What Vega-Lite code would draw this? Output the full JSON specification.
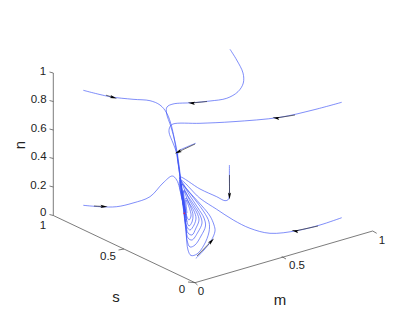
{"$schema":"https://vega.github.io/schema/vega-lite/v6.json","width":411,"height":317,"autosize":{"type":"fit","contains":"padding"},"padding":0,"background":"white","config":{"view":{"stroke":null}},
"datasets":{
"curves":[
{"c":"A","i":0,"x":83.3,"y":90.3},{"c":"A","i":1,"x":110,"y":96.7},{"c":"A","i":2,"x":133,"y":99.3},{"c":"A","i":3,"x":150,"y":100.7},{"c":"A","i":4,"x":160,"y":105},{"c":"A","i":5,"x":166.7,"y":113},{"c":"A","i":6,"x":171.7,"y":126.7},{"c":"A","i":7,"x":175,"y":143},{"c":"A","i":8,"x":178,"y":163},{"c":"A","i":9,"x":180,"y":177},{"c":"A","i":10,"x":184,"y":205},{"c":"A","i":11,"x":187,"y":222},
{"c":"B","i":0,"x":230,"y":49.3},{"c":"B","i":1,"x":236.7,"y":60},{"c":"B","i":2,"x":243,"y":73},{"c":"B","i":3,"x":243.3,"y":83},{"c":"B","i":4,"x":238,"y":91.7},{"c":"B","i":5,"x":226.7,"y":98.3},{"c":"B","i":6,"x":210,"y":101},{"c":"B","i":7,"x":193,"y":102.7},{"c":"B","i":8,"x":173,"y":104},{"c":"B","i":9,"x":167,"y":107},{"c":"B","i":10,"x":166.5,"y":113},{"c":"B","i":11,"x":171,"y":127},{"c":"B","i":12,"x":176,"y":146},{"c":"B","i":13,"x":179,"y":165},{"c":"B","i":14,"x":182,"y":190},{"c":"B","i":15,"x":186,"y":218},
{"c":"C","i":0,"x":341.7,"y":102.3},{"c":"C","i":1,"x":313,"y":110},{"c":"C","i":2,"x":280,"y":117.3},{"c":"C","i":3,"x":233,"y":121.7},{"c":"C","i":4,"x":200,"y":123.3},{"c":"C","i":5,"x":173,"y":124},{"c":"C","i":6,"x":170,"y":126.7},{"c":"C","i":7,"x":169,"y":132},{"c":"C","i":8,"x":173,"y":143},{"c":"C","i":9,"x":176.7,"y":153},{"c":"C","i":10,"x":178.5,"y":165},{"c":"C","i":11,"x":181,"y":185},{"c":"C","i":12,"x":185,"y":212},
{"c":"D","i":0,"x":195.7,"y":143.3},{"c":"D","i":1,"x":186.7,"y":147},{"c":"D","i":2,"x":179,"y":151},{"c":"D","i":3,"x":177.5,"y":156},{"c":"D","i":4,"x":179,"y":168},{"c":"D","i":5,"x":182,"y":190},{"c":"D","i":6,"x":186,"y":215},
{"c":"E","i":0,"x":83.3,"y":205.3},{"c":"E","i":1,"x":100,"y":206.7},{"c":"E","i":2,"x":116.7,"y":206.7},{"c":"E","i":3,"x":133,"y":203},{"c":"E","i":4,"x":150,"y":196.7},{"c":"E","i":5,"x":163,"y":183},{"c":"E","i":6,"x":172.3,"y":176},{"c":"E","i":7,"x":176.7,"y":180},{"c":"E","i":8,"x":181.7,"y":197},{"c":"E","i":9,"x":185,"y":213},
{"c":"F","i":0,"x":229.4,"y":165},{"c":"F","i":1,"x":229.4,"y":180},{"c":"F","i":2,"x":229.4,"y":193},{"c":"F","i":3,"x":228.3,"y":199.5},{"c":"F","i":4,"x":225,"y":200.7},{"c":"F","i":5,"x":216.7,"y":196.7},{"c":"F","i":6,"x":200,"y":189},{"c":"F","i":7,"x":180,"y":177},{"c":"F","i":8,"x":180,"y":181},{"c":"F","i":9,"x":184,"y":210},
{"c":"G","i":0,"x":341.7,"y":217.7},{"c":"G","i":1,"x":320,"y":225},{"c":"G","i":2,"x":296.7,"y":230.7},{"c":"G","i":3,"x":270,"y":233.3},{"c":"G","i":4,"x":250,"y":228.3},{"c":"G","i":5,"x":233.3,"y":220},{"c":"G","i":6,"x":216.7,"y":209.3},{"c":"G","i":7,"x":200,"y":198.3},{"c":"G","i":8,"x":180,"y":180},{"c":"G","i":9,"x":184,"y":208},
{"c":"S","i":0,"x":196,"y":258.3},{"c":"S","i":1,"x":204,"y":250},{"c":"S","i":2,"x":211,"y":241},{"c":"S","i":3,"x":215,"y":231},{"c":"S","i":4,"x":214,"y":225},{"c":"S","i":5,"x":210,"y":216},{"c":"S","i":6,"x":202,"y":206},{"c":"S","i":7,"x":192,"y":195},{"c":"S","i":8,"x":182,"y":183},{"c":"S","i":9,"x":180,"y":178},{"c":"S","i":10,"x":183,"y":205},{"c":"S","i":11,"x":186,"y":232},{"c":"S","i":12,"x":188,"y":250},{"c":"S","i":13,"x":191,"y":255.5},{"c":"S","i":14,"x":197,"y":254},{"c":"S","i":15,"x":204,"y":245},{"c":"S","i":16,"x":209,"y":232},{"c":"S","i":17,"x":209,"y":222},{"c":"S","i":18,"x":204,"y":212},{"c":"S","i":19,"x":196,"y":201},{"c":"S","i":20,"x":186,"y":188},{"c":"S","i":21,"x":181,"y":181},{"c":"S","i":22,"x":183,"y":205},{"c":"S","i":23,"x":186,"y":228},{"c":"S","i":24,"x":187,"y":240},{"c":"S","i":25,"x":190,"y":247},{"c":"S","i":26,"x":195,"y":245},{"c":"S","i":27,"x":201,"y":236},{"c":"S","i":28,"x":205.5,"y":226},{"c":"S","i":29,"x":204,"y":218},{"c":"S","i":30,"x":198,"y":208},{"c":"S","i":31,"x":190,"y":196},{"c":"S","i":32,"x":182,"y":184},{"c":"S","i":33,"x":184,"y":210},{"c":"S","i":34,"x":186,"y":228},{"c":"S","i":35,"x":188,"y":238},{"c":"S","i":36,"x":192,"y":240},{"c":"S","i":37,"x":198,"y":232},{"c":"S","i":38,"x":202,"y":223},{"c":"S","i":39,"x":200,"y":215},{"c":"S","i":40,"x":194,"y":205},{"c":"S","i":41,"x":186,"y":193},{"c":"S","i":42,"x":182,"y":184},{"c":"S","i":43,"x":184,"y":210},{"c":"S","i":44,"x":186,"y":225},{"c":"S","i":45,"x":188,"y":233},{"c":"S","i":46,"x":192,"y":235},{"c":"S","i":47,"x":196,"y":228},{"c":"S","i":48,"x":199,"y":220},{"c":"S","i":49,"x":197,"y":213},{"c":"S","i":50,"x":191,"y":203},{"c":"S","i":51,"x":184,"y":190},{"c":"S","i":52,"x":185,"y":215},{"c":"S","i":53,"x":187,"y":227},{"c":"S","i":54,"x":190,"y":230},{"c":"S","i":55,"x":194,"y":225},{"c":"S","i":56,"x":196,"y":218},{"c":"S","i":57,"x":194,"y":211},{"c":"S","i":58,"x":188,"y":201},{"c":"S","i":59,"x":184,"y":191},{"c":"S","i":60,"x":186,"y":215},{"c":"S","i":61,"x":187,"y":222},{"c":"S","i":62,"x":189,"y":226},{"c":"S","i":63,"x":192,"y":222},{"c":"S","i":64,"x":193,"y":215},{"c":"S","i":65,"x":191,"y":208},{"c":"S","i":66,"x":186,"y":198},{"c":"S","i":67,"x":185,"y":200},{"c":"S","i":68,"x":187,"y":217},{"c":"S","i":69,"x":189,"y":220},{"c":"S","i":70,"x":191,"y":216},{"c":"S","i":71,"x":190,"y":210},{"c":"S","i":72,"x":186,"y":200},{"c":"S","i":73,"x":187,"y":213}
],
"axes":[
{"a":"n","i":0,"x":53.3,"y":73},{"a":"n","i":1,"x":53.3,"y":215.5},
{"a":"s","i":0,"x":53.3,"y":215.5},{"a":"s","i":1,"x":195,"y":282.7},
{"a":"m","i":0,"x":195,"y":282.7},{"a":"m","i":1,"x":372.7,"y":231},
{"a":"t1","i":0,"x":53.3,"y":73},{"a":"t1","i":1,"x":49.5,"y":72},
{"a":"t2","i":0,"x":53.3,"y":101.5},{"a":"t2","i":1,"x":49.5,"y":100.5},
{"a":"t3","i":0,"x":53.3,"y":130},{"a":"t3","i":1,"x":49.5,"y":129},
{"a":"t4","i":0,"x":53.3,"y":158.5},{"a":"t4","i":1,"x":49.5,"y":157.5},
{"a":"t5","i":0,"x":53.3,"y":187},{"a":"t5","i":1,"x":49.5,"y":186},
{"a":"t6","i":0,"x":53.3,"y":215.5},{"a":"t6","i":1,"x":49.5,"y":214.5},
{"a":"t7","i":0,"x":124,"y":249},{"a":"t7","i":1,"x":118.5,"y":250},
{"a":"t8","i":0,"x":195,"y":282.7},{"a":"t8","i":1,"x":188,"y":282},
{"a":"t9","i":0,"x":281.7,"y":256.5},{"a":"t9","i":1,"x":286,"y":259},
{"a":"t10","i":0,"x":372.7,"y":231},{"a":"t10","i":1,"x":376.7,"y":233.3},
{"a":"t11","i":0,"x":195,"y":282.7},{"a":"t11","i":1,"x":197.5,"y":285}
],
"shafts":[
{"a":"1","i":0,"x":106,"y":95.2},{"a":"1","i":1,"x":113.5,"y":97.5},
{"a":"2","i":0,"x":207,"y":101.5},{"a":"2","i":1,"x":191.5,"y":103},
{"a":"3","i":0,"x":295,"y":115},{"a":"3","i":1,"x":276,"y":118},
{"a":"4","i":0,"x":195,"y":144},{"a":"4","i":1,"x":178,"y":152},
{"a":"5","i":0,"x":94,"y":206},{"a":"5","i":1,"x":104,"y":206.5},
{"a":"6","i":0,"x":229.5,"y":175},{"a":"6","i":1,"x":229.5,"y":196},
{"a":"7","i":0,"x":318,"y":226},{"a":"7","i":1,"x":295,"y":231},
{"a":"8","i":0,"x":197,"y":256},{"a":"8","i":1,"x":211.5,"y":241}
],
"heads":[
{"x":113.5,"y":97.5,"dir":107},{"x":191.5,"y":103,"dir":275},{"x":276,"y":118,"dir":279},{"x":178,"y":152,"dir":245},{"x":104,"y":206.5,"dir":93},{"x":229.5,"y":196,"dir":180},{"x":295,"y":231,"dir":282},{"x":211.5,"y":241,"dir":44}
],
"center":[{"x":184.3,"y":213.3}],
"ticks":[
{"t":"1","x":43,"y":72},{"t":"0.8","x":38.7,"y":100},{"t":"0.6","x":38.7,"y":129},{"t":"0.4","x":38.7,"y":157},{"t":"0.2","x":38.3,"y":185.5},{"t":"0","x":43.3,"y":212.5},
{"t":"1","x":43,"y":226},{"t":"0.5","x":108,"y":257},{"t":"0","x":182,"y":290},
{"t":"0","x":201,"y":292},{"t":"0.5","x":297,"y":266},{"t":"1","x":382,"y":241}
],
"titles":[{"t":"s","x":116,"y":297},{"t":"m","x":280,"y":300}],
"ntitle":[{"t":"n","x":20,"y":145}]
},
"encoding":{"x":{"field":"x","type":"quantitative","scale":{"domain":[0,411]},"axis":null},"y":{"field":"y","type":"quantitative","scale":{"domain":[317,0]},"axis":null}},
"layer":[
{"data":{"name":"axes"},"mark":{"type":"line","color":"#444444","strokeWidth":0.7},"encoding":{"detail":{"field":"a"},"order":{"field":"i"}}},
{"data":{"name":"curves"},"mark":{"type":"line","color":"#3a50f5","strokeWidth":0.65,"interpolate":"catmull-rom"},"encoding":{"detail":{"field":"c"},"order":{"field":"i"}}},
{"data":{"name":"shafts"},"mark":{"type":"line","color":"#333333","strokeWidth":0.7},"encoding":{"detail":{"field":"a"},"order":{"field":"i"}}},
{"data":{"name":"heads"},"mark":{"type":"point","filled":true,"color":"#000000","opacity":1,"size":50,"shape":"M0,-1L0.45,1L0,0.6L-0.45,1Z"},"encoding":{"angle":{"field":"dir","type":"quantitative","scale":null}}},
{"data":{"name":"center"},"mark":{"type":"point","filled":true,"color":"#e0205a","opacity":1,"size":3}},
{"data":{"name":"ticks"},"mark":{"type":"text","font":"Liberation Sans","fontSize":11.5,"color":"#222222","align":"center","baseline":"middle"},"encoding":{"text":{"field":"t"}}},
{"data":{"name":"titles"},"mark":{"type":"text","font":"Liberation Sans","fontSize":15,"color":"#222222","align":"center","baseline":"middle"},"encoding":{"text":{"field":"t"}}},
{"data":{"name":"ntitle"},"mark":{"type":"text","font":"Liberation Sans","fontSize":15,"angle":270,"color":"#222222","align":"center","baseline":"middle"},"encoding":{"text":{"field":"t"}}}
]}
